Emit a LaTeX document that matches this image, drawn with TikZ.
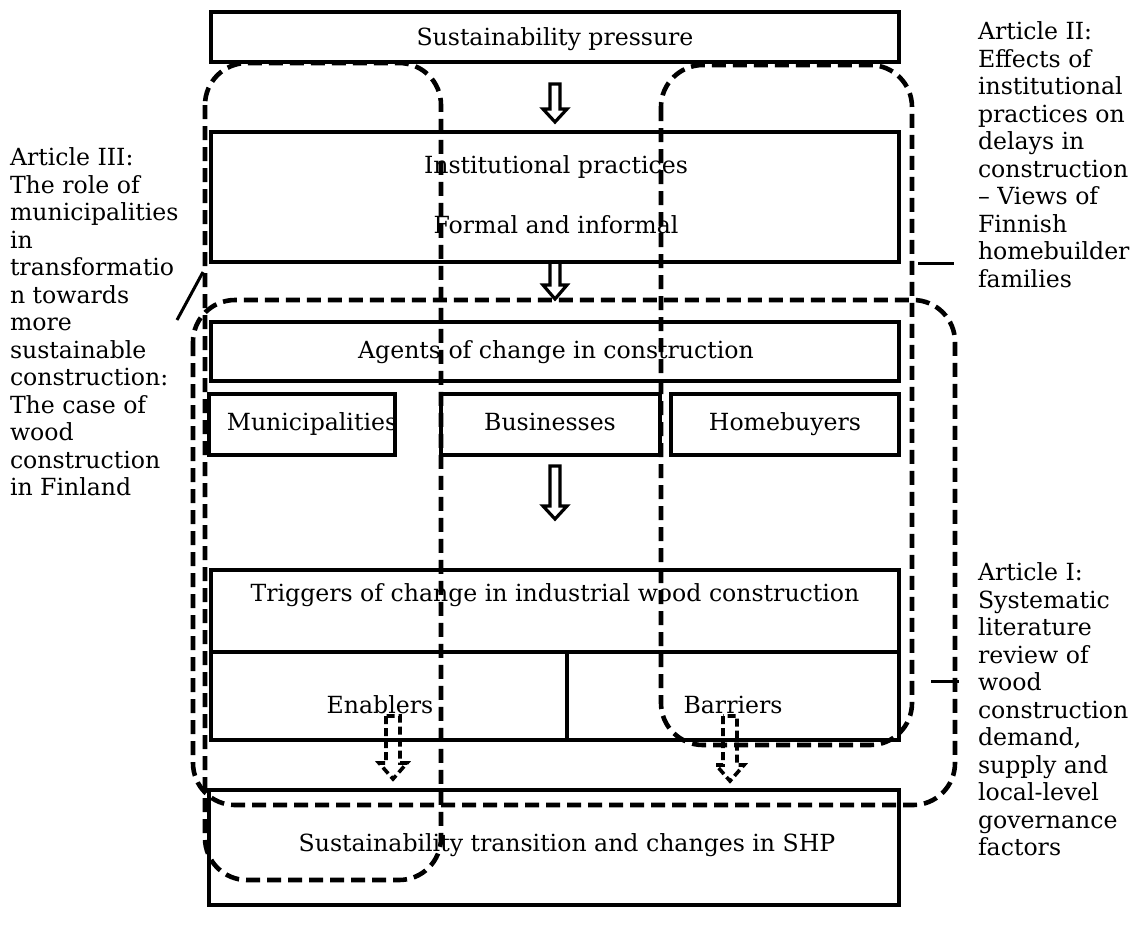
\documentclass[tikz,border=0pt]{standalone}
\usepackage{fontspec}
\setmainfont{DejaVu Serif}
\begin{document}
\begin{tikzpicture}[x=1pt,y=-1pt,
  every node/.style={inner sep=0pt, outer sep=0pt},
  txt/.style={font=\fontsize{23.6}{27.5}\selectfont, anchor=base},
  lbl/.style={font=\fontsize{23.6}{27.5}\selectfont, align=left, anchor=north west},
  box/.style={draw, line width=4.2pt, anchor=north west},
  group/.style={draw, line width=4.6pt, dash pattern=on 14pt off 7pt, rounded corners=42pt},
  hollow/.style={draw, line width=3.2pt, line join=miter},
  dhollow/.style={draw, line width=3.6pt, dash pattern=on 8pt off 4pt},
  leader/.style={draw, line width=3pt}]
\useasboundingbox (0,0) rectangle (1137,927);

% solid boxes (x, y of the top-left corner; sizes in pixels)
\newcommand\boxat[5]{\node[box, minimum width=#4, minimum height=#5] (#1) at (#2,#3) {};}
\boxat{press}{211}{12}{688}{50}
\boxat{inst}{211}{132}{688}{130}
\boxat{agents}{211}{322}{688}{59}
\boxat{mun}{209}{394}{186}{61}
\boxat{bus}{441}{394}{219}{61}
\boxat{home}{671}{394}{228}{61}
\boxat{trig}{211}{570}{688}{170}
\boxat{enab}{211}{652}{356}{88}
\boxat{barr}{567}{652}{332}{88}
\boxat{trans}{209}{790}{690}{115}

% box texts
\node[txt] (tpress) at (555,45) {Sustainability pressure};
\node[txt] (tinst1) at (556,173) {Institutional practices};
\node[txt] (tinst2) at (556,233) {Formal and informal};
\node[txt] (tagents) at (556,358) {Agents of change in construction};
\node[txt] (tmun) at (312,430) {Municipalities};
\node[txt] (tbus) at (550,430) {Businesses};
\node[txt] (thome) at (785,430) {Homebuyers};
\node[txt] (ttrig) at (555,601) {Triggers of change in industrial wood construction};
\node[txt] (tenab) at (380,713) {Enablers};
\node[txt] (tbarr) at (733,713) {Barriers};
\node[txt] (ttrans) at (567,851) {Sustainability transition and changes in SHP};

% hollow block arrows between the levels
\newcommand\blockarrow[5]{% style, x, top, tip, head length
  \path[#1] (#2-5,#3) -- (#2-5,#4-#5) -- (#2-12,#4-#5) -- (#2,#4) -- (#2+12,#4-#5)
    -- (#2+5,#4-#5) -- (#2+5,#3) -- cycle;}
\blockarrow{hollow}{555}{84}{122}{13}
\blockarrow{hollow}{555}{262}{299}{14}
\blockarrow{hollow}{555}{466}{519}{13}
% dashed block arrows towards the transition
\newcommand\dashedarrow[4]{% x, top, tip, head length
  \path[dhollow] (#1-7,#2) -- (#1-7,#3-#4) -- (#1-14,#3-#4) -- (#1,#3) -- (#1+14,#3-#4)
    -- (#1+7,#3-#4) -- (#1+7,#2) -- cycle;}
\dashedarrow{393}{716}{779}{16}
\dashedarrow{730}{716}{781}{16}

% article groupings
\path[group] (205,63) rectangle (441,880);
\path[group] (661,65) rectangle (912,745);
\path[group] (193,300) rectangle (955,805);

% article labels
\node[lbl] (art3) at (10,148) {Article III:\\The role of\\municipalities\\in\\transformatio\\n towards\\more\\sustainable\\construction:\\The case of\\wood\\construction\\in Finland};
\node[lbl] (art2) at (978,22) {Article II:\\Effects of\\institutional\\practices on\\delays in\\construction\\– Views of\\Finnish\\homebuilder\\families};
\node[lbl] (art1) at (978,563) {Article I:\\Systematic\\literature\\review of\\wood\\construction\\demand,\\supply and\\local-level\\governance\\factors};

% leader lines from the labels to their groupings
\coordinate (l3a) at (177,320); \coordinate (l3b) at (203,272);
\coordinate (l2a) at (918,263); \coordinate (l2b) at (954,263);
\coordinate (l1a) at (931,681); \coordinate (l1b) at (959,681);
\path[leader] (l3a) -- (l3b);
\path[leader] (l2a) -- (l2b);
\path[leader] (l1a) -- (l1b);
\end{tikzpicture}
\end{document}
